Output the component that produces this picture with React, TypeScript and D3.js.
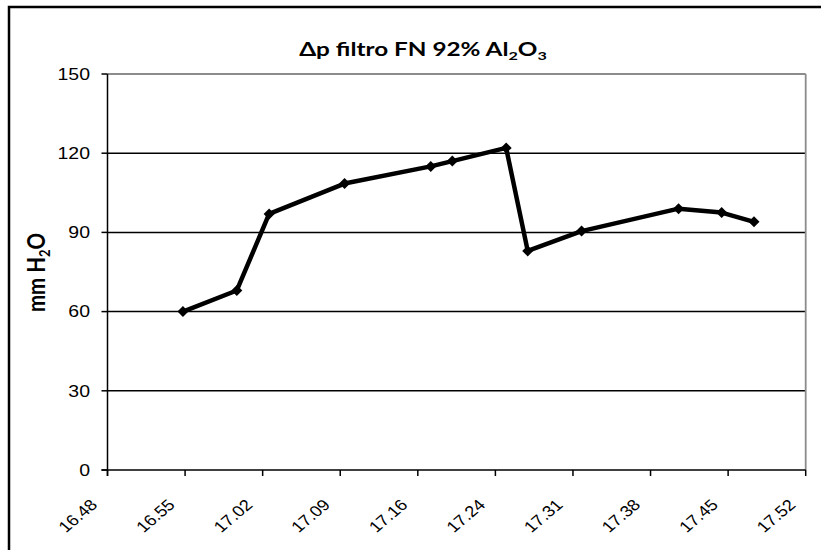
import React from "react";
import * as d3 from "d3";

const times = ["16:55", "17:00", "17:03", "17:10", "17:18", "17:20", "17:25", "17:27", "17:32", "17:41", "17:45", "17:48"];
const values = [60, 68, 97, 108.5, 115, 117, 122, 83, 90.5, 99, 97.5, 94];
const yTicks = [0, 30, 60, 90, 120, 150];
const xStartMin = 16 * 60 + 48;
const xStepMin = 7.2;
const xTickCount = 10;

const toMin = (t: string) => {
  const [h, m] = t.split(":").map(Number);
  return h * 60 + m;
};
const fmt = (m: number) => {
  const h = Math.floor(m / 60);
  const mm = Math.floor(m - h * 60 + 1e-6);
  return `${h}.${String(mm).padStart(2, "0")}`;
};

export default function App() {
  const W = 821, H = 550;
  const left = 107.5, right = 805.7, top = 74, bottom = 470;
  const SX = 1.18;
  const xTicks = d3.range(xTickCount).map((i) => xStartMin + i * xStepMin);
  const x = d3.scaleLinear().domain([xTicks[0], xTicks[xTicks.length - 1]]).range([left, right]);
  const y = d3.scaleLinear().domain([0, 150]).range([bottom, top]);
  const pts = times.map((t, i) => [x(toMin(t)), y(values[i])] as [number, number]);
  const line = d3.line()(pts) || "";
  const diamond = (cx: number, cy: number, r: number) =>
    `M${cx},${cy - r}L${cx + r},${cy}L${cx},${cy + r}L${cx - r},${cy}Z`;
  const tickFont = "'Liberation Sans', Arial, sans-serif";
  const boldFont = "Lato, 'Open Sans', sans-serif";
  return (
    <svg width={W} height={H} style={{ position: "absolute", left: 0, top: 0, background: "#fff" }}>
      <rect x={0} y={0} width={W} height={H} fill="#fff" />
      <rect x={9} y={7} width={W + 20} height={H + 20} fill="none" stroke="#000" strokeWidth={2.5} />
      {yTicks.filter((v) => v > 0 && v < 150).map((v) => (
        <line key={v} x1={left} x2={right} y1={y(v)} y2={y(v)} stroke="#000" strokeWidth={1.5} />
      ))}
      <line x1={left} x2={right} y1={top} y2={top} stroke="#8c8c8c" strokeWidth={1.8} />
      <line x1={right} x2={right} y1={top} y2={bottom} stroke="#8c8c8c" strokeWidth={1.8} />
      <line x1={left} x2={left} y1={top} y2={bottom + 6} stroke="#000" strokeWidth={1.5} />
      <line x1={left - 6} x2={right} y1={bottom} y2={bottom} stroke="#000" strokeWidth={1.5} />
      {yTicks.map((v) => (
        <g key={v}>
          <line x1={left - 6} x2={left} y1={y(v)} y2={y(v)} stroke="#000" strokeWidth={1.5} />
          <text
            transform={`translate(90,${y(v)}) scale(${SX},1)`}
            dy="0.35em"
            textAnchor="end"
            fontFamily={tickFont}
            fontSize={16.5}
            fill="#000"
          >
            {v}
          </text>
        </g>
      ))}
      {xTicks.map((m, i) => (
        <g key={i}>
          <line x1={x(m)} x2={x(m)} y1={bottom} y2={bottom + 6} stroke="#000" strokeWidth={1.5} />
          <text
            transform={`translate(${x(m)},502) scale(${SX},1) translate(-11.5,0) rotate(-45)`}
            textAnchor="end"
            dy="0.35em"
            fontFamily={tickFont}
            fontSize={15.5}
            fill="#000"
          >
            {fmt(m)}
          </text>
        </g>
      ))}
      <path d={line} fill="none" stroke="#000" strokeWidth={4.5} strokeLinejoin="round" />
      {pts.map(([cx, cy], i) => (
        <path key={i} d={diamond(cx, cy, 5.5)} fill="#000" />
      ))}
      <g transform={`translate(423,56) scale(1.35,1)`}>
        <text x={0} y={0} textAnchor="middle" fontFamily={boldFont} fontWeight="bold" fontSize={18} fill="#000">
          Δp filtro FN 92% Al<tspan fontSize={12} dy={4}>2</tspan>
          <tspan dy={-4}>O</tspan>
          <tspan fontSize={12} dy={4}>3</tspan>
        </text>
      </g>
      <g transform={`translate(45,272.5) scale(${SX},1) rotate(-90)`}>
        <text x={0} y={0} textAnchor="middle" fontFamily={boldFont} fontWeight="bold" fontSize={20.5} fill="#000">
          mm H<tspan fontSize={13} dy={4}>2</tspan>
          <tspan dy={-4}>O</tspan>
        </text>
      </g>
    </svg>
  );
}
